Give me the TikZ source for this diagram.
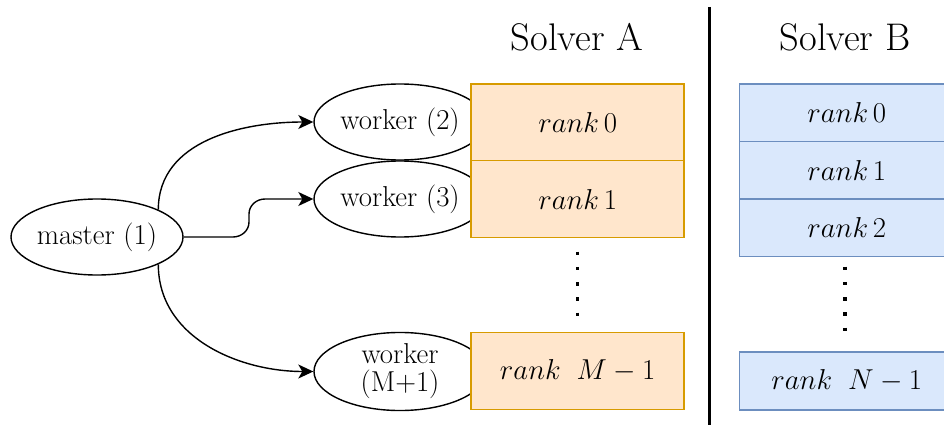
\RequirePackage{fix-cm}
\documentclass[tikz,border=0pt]{standalone}
\usetikzlibrary{shapes.geometric,arrows.meta}
\definecolor{ofill}{HTML}{FFE6CC}
\definecolor{odraw}{HTML}{D79B00}
\definecolor{bfill}{HTML}{DAE8FC}
\definecolor{bdraw}{HTML}{6C8EBF}
\tikzset{
  lbl/.style={font=\fontsize{28.8}{32}\selectfont},
  ell/.style={ellipse, draw, line width=1.4pt, fill=white, inner sep=0pt, minimum width=172pt, minimum height=76pt, lbl, align=center},
  obox/.style={rectangle, draw=odraw, fill=ofill, line width=1.6pt, inner sep=0pt, minimum width=213pt, lbl},
  bbox/.style={rectangle, draw=bdraw, fill=bfill, line width=1.6pt, inner sep=0pt, minimum width=215pt, lbl},
  conn/.style={line width=1.4pt, -{Stealth[length=15pt,width=14pt,inset=4pt]}},
  vdots/.style={line width=3.5pt, dash pattern=on 3.5pt off 11.8pt},
  title/.style={font=\fontsize{38.5}{42}\selectfont}
}
\begin{document}
\begin{tikzpicture}[x=1pt,y=-1pt]
\useasboundingbox (0,0) rectangle (944,425);
\clip (0,0) rectangle (944,425);
% ellipses
\node[ell] (m) at (97,237) {master (1)};
\node[ell] (w2) at (400,122) {worker (2)};
\node[ell] (w3) at (400,199) {worker (3)};
\node[ell] (w4) at (400,371.5) {worker\\[-4pt](M+1)};
% solver A boxes
\node[obox, minimum height=76.7pt] (a0) at (577.7,122.3) {$rank\,0$};
\node[obox, minimum height=76.7pt] (a1) at (577.7,199) {$rank\,1$};
\node[obox, minimum height=76.7pt] (am) at (577.7,371) {$rank\;\;M-1$};
% solver B boxes
\node[bbox, minimum height=57.5pt] (b0) at (846.8,112.8) {$rank\,0$};
\node[bbox, minimum height=57.5pt] (b1) at (846.8,170.3) {$rank\,1$};
\node[bbox, minimum height=57.5pt] (b2) at (846.8,227.8) {$rank\,2$};
\node[bbox, minimum height=57.5pt] (bn) at (846.8,381) {$rank\;\;N-1$};
% titles
\node[title] (ta) at (577,37) {Solver A};
\node[title] (tb) at (845,37) {Solver B};
% separator
\coordinate (s1) at (709.7,7);
\coordinate (s2) at (709.7,430);
\draw[line width=3pt] (s1) -- (s2);
% dots
\coordinate (da1) at (577.7,251.5);
\coordinate (da2) at (577.7,318);
\draw[vdots] (da1) -- (da2);
\coordinate (db1) at (845,266.5);
\coordinate (db2) at (845,333);
\draw[vdots] (db1) -- (db2);
% connectors
\draw[conn] (m.north east) to[out=90,in=180] (w2.west);
\coordinate (k1) at (233,237);
\coordinate (k2) at (249,222);
\coordinate (k3) at (249,214);
\coordinate (k4) at (265,199);
\draw[conn] (m.east) -- (k1) to[out=0,in=-90] (k2) -- (k3) to[out=90,in=180] (k4) -- (w3.west);
\draw[conn] (m.south east) to[out=-90,in=180] (w4.west);
\end{tikzpicture}
\end{document}
